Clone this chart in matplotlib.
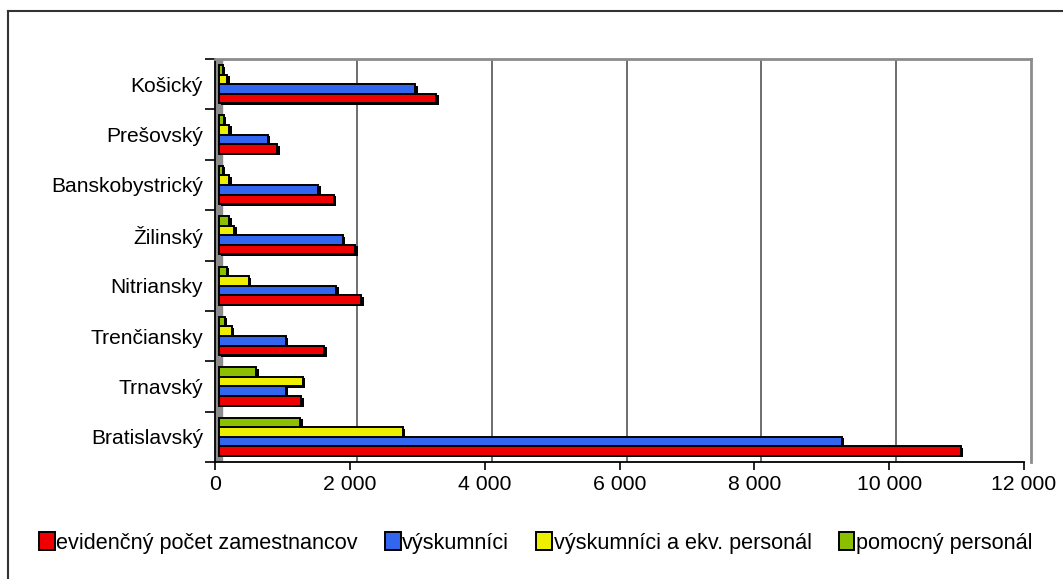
import numpy as np
import matplotlib
matplotlib.use("Agg")
import matplotlib.pyplot as plt
from matplotlib.patches import Patch
from matplotlib.lines import Line2D
from matplotlib.transforms import offset_copy

plt.rcParams['font.family'] = ['Liberation Sans', 'DejaVu Sans']

# kraje, zdola nahor (ako v Exceli)
kraje = ['Bratislavský', 'Trnavský', 'Trenčiansky', 'Nitriansky',
         'Žilinský', 'Banskobystrický', 'Prešovský', 'Košický']

evidencny = [11010, 1230, 1570, 2120, 2030, 1710, 875, 3230]
vyskumnici = [9245, 995, 995, 1750, 1840, 1480, 730, 2920]
vysk_ekv = [2730, 1250, 195, 445, 235, 160, 160, 130]
pomocny = [1215, 560, 90, 120, 160, 60, 75, 60]

nazvy = ['evidenčný počet zamestnancov', 'výskumníci',
         'výskumníci a ekv. personál', 'pomocný personál']
farby = ['#ee0000', '#3366ee', '#eeee00', '#8cbf00']
x_ticks = [0, 2000, 4000, 6000, 8000, 10000, 12000]
x_labels = ['0', '2 000', '4 000', '6 000', '8 000', '10 000', '12 000']

W, H = 1063, 579
fig = plt.figure(figsize=(W / 100, H / 100), dpi=100)
fig.patch.set_facecolor('white')

# vonkajsi ramcek (orezany vpravo a dole)
fig.add_artist(Line2D([8 / W, 8 / W], [0, 1 - 11 / H], color='#333333', lw=1.5))
fig.add_artist(Line2D([8 / W, 1], [1 - 11 / H, 1 - 11 / H], color='#333333', lw=1.5))

ax = fig.add_axes([215 / W, (H - 462) / H, (1031 - 215) / W, (462 - 59) / H])
xmax = 12000 * (1031 - 215) / (1024 - 215)
ax.set_xlim(0, xmax)
ax.set_ylim(-0.5, len(kraje) - 0.5)

# "3D" zadna stena - posunute mriezky a siva lava stena
hlbka = 104
ax.axvspan(0, hlbka, color='#8c8c8c', zorder=0)
for t in x_ticks[1:-1]:
    ax.axvline(t + hlbka, color='#555555', lw=1.2, zorder=0.5)

y = np.arange(len(kraje))
h = 0.19
serie = [evidencny, vyskumnici, vysk_ekv, pomocny]
tr_bar = offset_copy(ax.transData, fig=fig, x=3.5, y=0, units='dots')
tr_tien = offset_copy(ax.transData, fig=fig, x=6, y=-1.5, units='dots')
for i, (vals, c) in enumerate(zip(serie, farby)):
    pos = y + (i - 1.5) * h
    ax.barh(pos, vals, height=h, color='black', transform=tr_tien, zorder=2)
    ax.barh(pos, vals, height=h, color=c, edgecolor='black', lw=1.4,
            transform=tr_bar, zorder=3)

for s in ['top', 'right']:
    ax.spines[s].set_color('#8c8c8c')
    ax.spines[s].set_linewidth(2)
ax.spines['left'].set_color('black')
ax.spines['left'].set_linewidth(1.3)
ax.spines['bottom'].set_color('black')
ax.spines['bottom'].set_linewidth(1.3)
ax.spines['bottom'].set_bounds(0, 12000)

ax.set_xticks(x_ticks)
ax.set_xticklabels(x_labels, fontsize=15.3)
ax.tick_params(axis='x', length=6, width=1.2, pad=3)

ax.set_yticks(np.arange(len(kraje) + 1) - 0.5)
ax.set_yticklabels([])
ax.set_yticks(y, minor=True)
ax.set_yticklabels(kraje, minor=True, fontsize=15.1)
ax.tick_params(axis='y', which='major', length=7, width=1.2)
ax.tick_params(axis='y', which='minor', length=0, pad=8.6)

handles = [Patch(facecolor=c, edgecolor='black', lw=1.4) for c in farby]
fig.legend(handles, nazvy, loc='center left', bbox_to_anchor=(39 / W, 1 - 543 / H),
           ncol=4, frameon=False, fontsize=15.6, handlelength=0.72, handleheight=0.85,
           handletextpad=0.08, columnspacing=1.25, borderpad=0, borderaxespad=0)

fig.savefig('out.png', dpi=100)
